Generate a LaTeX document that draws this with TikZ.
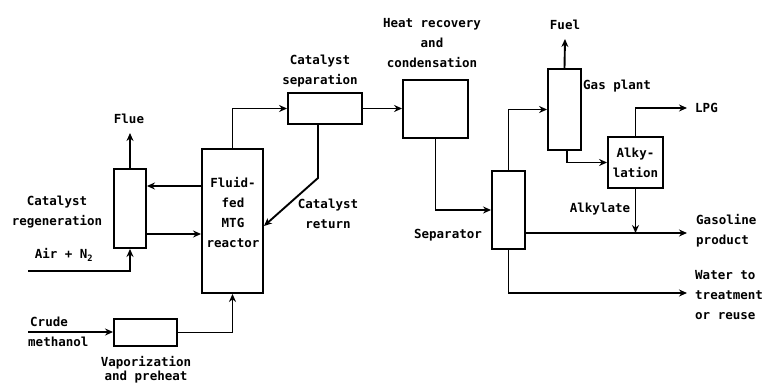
\documentclass[tikz,border=0pt]{standalone}
\usepackage{fontspec}
\setmainfont{DejaVu Sans Mono}
\usetikzlibrary{arrows.meta}
\begin{document}
\begin{tikzpicture}[x=1pt,y=-1pt,
  unitbox/.style={draw, line width=1.9pt, inner sep=0pt},
  flow/.style={line width=1.9pt, -{Stealth[length=8pt,width=7pt]}},
  lbl/.style={inner sep=0pt, font=\fontsize{12.5}{20}\selectfont\bfseries, align=center},
  lblw/.style={lbl, anchor=west, align=left}]
\useasboundingbox[fill=white] (0,0) rectangle (766,389);

% process units
\node[unitbox, minimum width=32pt, minimum height=79pt] (regen) at (130,208.5) {};
\node[unitbox, minimum width=61pt, minimum height=144pt] (reactor) at (232.5,221) {};
\node[unitbox, minimum width=63pt, minimum height=27pt] (vapor) at (145.5,332.5) {};
\node[unitbox, minimum width=74pt, minimum height=31pt] (catsep) at (325,108.5) {};
\node[unitbox, minimum width=65pt, minimum height=58pt] (heat) at (435.5,109) {};
\node[unitbox, minimum width=33pt, minimum height=78pt] (separator) at (508.5,210) {};
\node[unitbox, minimum width=33pt, minimum height=81pt] (gasplant) at (564.5,109.5) {};
\node[unitbox, minimum width=55pt, minimum height=51pt] (alky) at (635.5,162.5) {};

% labels
\node[lbl] (flue) at (129,119) {Flue};
\node[lbl] (regenlbl) at (57,212.5) {Catalyst\\regeneration};
\node[lbl] (air) at (64,255) {Air + N\textsubscript{2}};
\node[lblw] (crude) at (30,322) {Crude};
\node[lblw] (meth) at (28,342) {methanol};
\node[lbl] (vap1) at (146,363) {Vaporization};
\node[lbl] (vap2) at (146,377) {and preheat};
\node[lbl] (reactlbl) at (233,213) {Fluid-\\fed\\MTG\\reactor};
\node[lbl] (retlbl) at (328,214) {Catalyst\\return};
\node[lbl] (seplbl) at (320,71.5) {Catalyst\\separation};
\node[lbl] (heatlbl) at (432,43) {Heat recovery\\and\\condensation};
\node[lbl] (fuel) at (565,25) {Fuel};
\node[lblw] (gaslbl) at (583,86) {Gas plant};
\node[lblw] (lpg) at (695,108) {LPG};
\node[lbl] (alkylbl) at (alky) {Alky-\\lation};
\node[lbl] (alkylate) at (600,209) {Alkylate};
\node[lbl] (seplabel) at (448,235) {Separator};
\node[lblw] (gasoline) at (696,231) {Gasoline\\product};
\node[lblw] (water) at (695,295) {Water to\\treatment\\or reuse};

% helper points
\coordinate (airin) at (28,271);
\coordinate (crudein) at (28,332);
\coordinate (r1) at (0,186);
\coordinate (r2) at (0,234);
\coordinate (cr) at (318,178);
\coordinate (crin) at (0,226);
\coordinate (fuelend) at (565,39);
\coordinate (flueend) at (130,133);
\coordinate (lpgend) at (687,108);
\coordinate (prodend) at (687,233);
\coordinate (waterend) at (687,293);

% catalyst loop
\draw[flow] (airin) -| (regen.south);
\draw[flow] (regen.north) -- (flueend);
\draw[flow] (reactor.west |- r1) -- (regen.east |- r1);
\draw[flow] (regen.east |- r2) -- (reactor.west |- r2);
\draw[flow] (crudein) -- (vapor.west |- crudein);
\draw[flow] (vapor.east) -| (reactor.south);
\draw[flow] (reactor.north) |- (catsep.west);
\draw[flow] (catsep.south -| cr) -- (cr) -- (reactor.east |- crin);

% product recovery
\draw[flow] (catsep.east) -- (heat.west |- catsep.east);
\draw[flow] (heat.south) |- (separator.west);
\draw[flow] (separator.north) |- (gasplant.west);
\draw[flow] (gasplant.north) -- (fuelend);
\draw[flow] ([xshift=2.5pt]gasplant.south) |- (alky.west);
\draw[flow] (alky.north) |- (lpgend);
\draw[flow] (separator.east |- prodend) -- (prodend);
\draw[flow] (alky.south) -- (alky.south |- prodend);
\draw[flow] (separator.south) |- (waterend);
\end{tikzpicture}
\end{document}
